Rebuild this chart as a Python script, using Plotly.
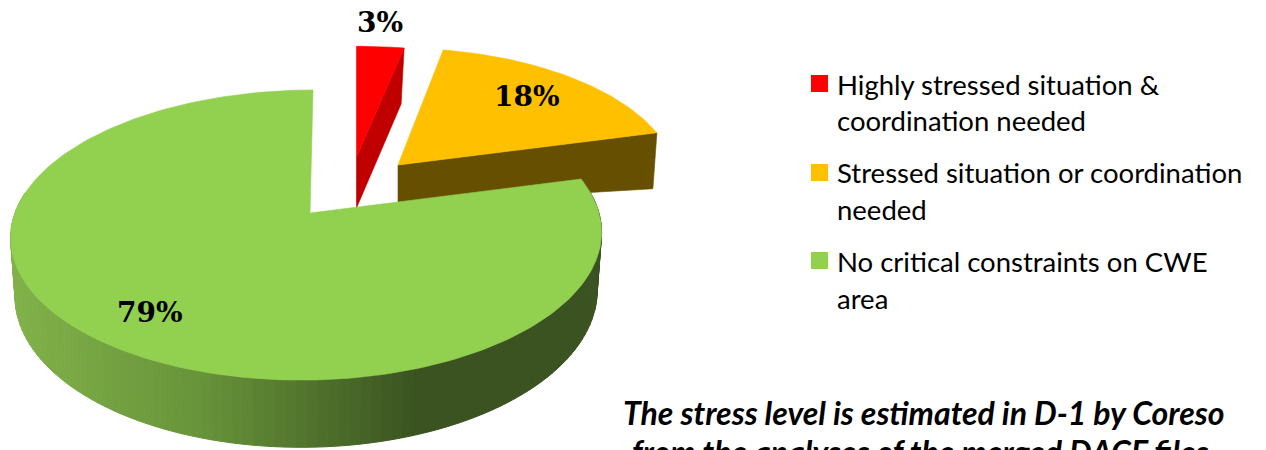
import numpy as np
import plotly.graph_objects as go

# ---- data ----
categories = ["Highly stressed situation &\ncoordination needed",
              "Stressed situation or coordination\nneeded",
              "No critical constraints on CWE\narea"]
values = [3, 18, 79]
labels = ["3%", "18%", "79%"]
top_colors = ["#FF0000", "#FFC000", "#92D050"]
side_colors = ["#C00000", "#665000", "#3A5320"]
note_lines = ["The stress level is estimated in D-1 by Coreso",
              "from the analyses of the merged DACF files"]

# ---- projection of the tilted pie onto the page (pixel axes) ----
W, H = 1266, 450
A, B, K = 292.0, 141.7, 0.152


def project(theta, ax=1.0, ay=1.0, shear=0.0):
    X, Y = np.sin(theta), np.cos(theta)
    s = 1 + K * Y
    return A * ax * X / s + shear * Y, -B * ay * Y / s


def arc(t0, t1, n, ax=1.0, ay=1.0, shear=0.0):
    t = np.linspace(t0, t1, n)
    return project(t, ax, ay, shear)


fractions = np.array(values) / sum(values)
edges = np.concatenate([[0], np.cumsum(fractions)]) * 2 * np.pi
t_red = (edges[0], edges[1])
t_or = (edges[1], edges[2])
t_gr = (edges[2], edges[3])

fig = go.Figure()


def poly(xs, ys, color, width=0.6):
    fig.add_trace(go.Scatter(x=list(xs) + [xs[0]], y=list(ys) + [ys[0]], mode="lines",
                             fill="toself", fillcolor=color,
                             line=dict(color=color, width=width),
                             hoverinfo="skip", showlegend=False))


# --- orange slice: front cut face, then top
ox, oy, oa, ob = 398.0, 165.0, 0.95, 0.95
ex, ey = project(t_or[1], oa, ob)
poly([ox, ox + ex, ox + ex - 4, ox], [oy, oy + ey, oy + ey + 56, oy + 39], side_colors[1])
x, y = arc(t_or[0], t_or[1], 60, oa, ob)
poly(np.r_[ox, ox + x], np.r_[oy, oy + y], top_colors[1])

# --- red slice: cut face, then top
rx, ry, ra, rb = 356.5, 157.0, 1.0, 0.9
x0, y0 = project(t_red[0], ra, rb)
x1, y1 = project(t_red[1], ra, rb)
poly([rx, rx + x1, rx + x1 - 3, rx], [ry, ry + y1, ry + y1 + 56, ry + 51], side_colors[0])
x, y = arc(t_red[0], t_red[1], 12, ra, rb)
poly(np.r_[rx, rx + x], np.r_[ry, ry + y], top_colors[0])

# --- green slice: gradient outer wall then top
gx, gy = 307.0, 213.0
apex_x = 310.0
SHEAR = 6.0
D0, SHR = 57.0, 0.985
stops_x = [10, 200, 420, 603]
stops_c = np.array([[130, 178, 74], [104, 148, 58], [58, 83, 32], [58, 83, 32]], float)
ts = np.linspace(max(t_gr[0], np.pi / 2 - 0.15), 2 * np.pi - np.pi / 2 + 0.15, 110)
for a, b in zip(ts[:-1], ts[1:]):
    xa, ya = project(a, shear=SHEAR)
    xb, yb = project(b, shear=SHEAR)
    da = D0 / (1 + K * np.cos(a))
    db = D0 / (1 + K * np.cos(b))
    xm = gx + (xa + xb) / 2
    col = [int(np.interp(xm, stops_x, stops_c[:, i])) for i in range(3)]
    c = f"rgb({col[0]},{col[1]},{col[2]})"
    poly([gx + xa, gx + xb, gx + xb * SHR, gx + xa * SHR],
         [gy + ya, gy + yb, gy + yb + db, gy + ya + da], c, 1.0)
x, y = arc(t_gr[0], t_gr[1], 240, shear=SHEAR)
poly(np.r_[apex_x, gx + x], np.r_[gy, gy + y], top_colors[2])

# --- legend swatches
sw_x = [819.5, 819.5, 819.5]
sw_y = [83.5, 172.5, 260.5]
fig.add_trace(go.Scatter(x=sw_x, y=sw_y, mode="markers",
                         marker=dict(symbol="square", size=17, color=top_colors, line=dict(width=0)),
                         hoverinfo="skip", showlegend=False))

ann = []
for txt, px, py in zip(labels, [380, 527, 150], [22, 96, 312]):
    ann.append(dict(x=px, y=py, text=f"<b>{txt}</b>", showarrow=False,
                    font=dict(family="DejaVu Serif", size=28, color="black")))
line_y = [[84, 120], [172, 209], [261, 298]]
for cat, ys in zip(categories, line_y):
    for part, py in zip(cat.split("\n"), ys):
        ann.append(dict(x=835, y=py, text=part, xanchor="left", showarrow=False,
                        font=dict(family="Lato", size=27.5, color="black")))
for part, px, py, sh in zip(note_lines, [923, 920], [412, 449], [0, -2]):
    ann.append(dict(x=px, y=py, yshift=sh, text=f"<b><i>{part}</i></b>", showarrow=False,
                    font=dict(family="Lato", size=32, color="black")))

fig.update_layout(width=W, height=H, margin=dict(l=0, r=0, t=0, b=0),
                  paper_bgcolor="white", plot_bgcolor="white", showlegend=False,
                  annotations=ann,
                  xaxis=dict(range=[0, W], visible=False, fixedrange=True),
                  yaxis=dict(range=[H, 0], visible=False, fixedrange=True))
fig.write_html("out.html", config=dict(displayModeBar=False),
               post_script="document.body.style.margin='0';document.documentElement.style.overflow='hidden';")
